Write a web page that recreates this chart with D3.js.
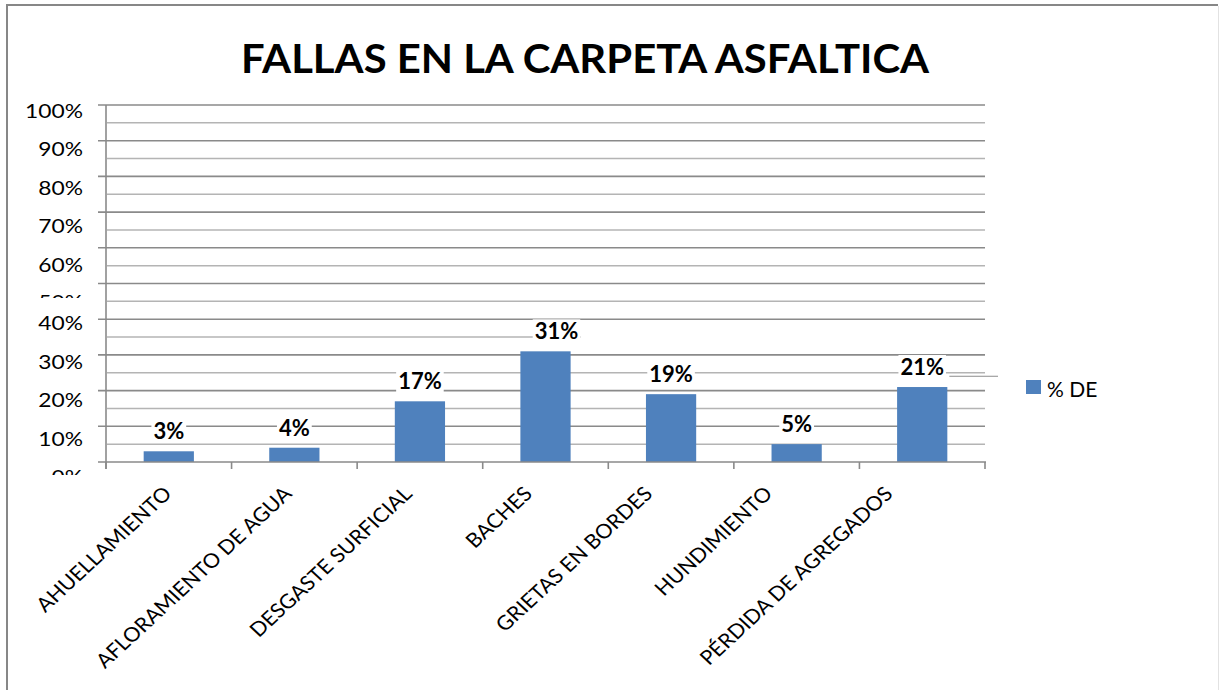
<!DOCTYPE html>
<html>
<head>
<meta charset="utf-8">
<script src="https://cdn.jsdelivr.net/npm/d3@7"></script>
<style>
  html, body { margin: 0; padding: 0; background: #fff; }
  svg { display: block; font-family: Lato, "Open Sans", sans-serif; }
</style>
</head>
<body>
<svg id="chart" width="1219" height="690"></svg>
<script>
// ---- data ----
const title = "FALLAS EN LA CARPETA ASFALTICA";
const seriesName = "% DE";
const categories = [
  "AHUELLAMIENTO",
  "AFLORAMIENTO DE AGUA",
  "DESGASTE SURFICIAL",
  "BACHES",
  "GRIETAS EN BORDES",
  "HUNDIMIENTO",
  "PÉRDIDA DE AGREGADOS"
];
const values = [0.03, 0.04, 0.17, 0.31, 0.19, 0.05, 0.21];
const majorTicks = [0, 0.1, 0.2, 0.3, 0.4, 0.5, 0.6, 0.7, 0.8, 0.9, 1.0];
const minorTicks = [0.05, 0.15, 0.25, 0.35, 0.45, 0.55, 0.65, 0.75, 0.85, 0.95];
const tickLabels = ["0%", "10%", "20%", "30%", "40%", "50%", "60%", "70%", "80%", "90%", "100%"];

// ---- layout ----
const W = 1219, H = 690;
const plot = { left: 106, right: 985, top: 105, bottom: 462 };
const barColor = "#4F81BD";
const majorGrid = "#8a8a8a";
const minorGrid = "#b4b4b4";
const textStretch = 1.14;   // glyphs are drawn slightly wide

const svg = d3.select("#chart");

// frame around the chart
svg.append("line").attr("x1", 7).attr("y1", 5).attr("x2", 7).attr("y2", H)
  .attr("stroke", "#878787").attr("stroke-width", 2);
svg.append("line").attr("x1", 6).attr("y1", 5).attr("x2", 1218).attr("y2", 5)
  .attr("stroke", "#878787").attr("stroke-width", 2);
svg.append("line").attr("x1", 1218.5).attr("y1", 6).attr("x2", 1218.5).attr("y2", H)
  .attr("stroke", "#e2e2e2").attr("stroke-width", 1);

// scales
const y = d3.scaleLinear().domain([0, 1]).range([plot.bottom, plot.top]);
const x = d3.scaleBand().domain(categories).range([plot.left, plot.right])
  .paddingInner(0.6).paddingOuter(0.3);
// value-axis labels sit on their own (slightly uneven) baseline ramp
const yLabel = d3.scaleLinear().domain([0, 0.4, 0.5, 0.6, 1])
  .range([484, 330, 309, 271.5, 118]);
// category labels are anchored along a point scale below the axis
const xLabel = d3.scalePoint().domain(categories).range([173, 894]);

// title
svg.append("text")
  .attr("transform", `translate(585,73) scale(1.02,1)`)
  .attr("text-anchor", "middle")
  .attr("font-weight", 700)
  .attr("font-size", 41)
  .attr("fill", "#000")
  .text(title);

// minor gridlines
const last = categories[categories.length - 1];
svg.append("g").selectAll("line").data(minorTicks).join("line")
  .attr("x1", plot.left + 1)
  .attr("x2", d => Math.abs(d - 0.35) < 1e-9 ? x("BACHES") + x.bandwidth() + 10 : plot.right)
  .attr("y1", d => y(d)).attr("y2", d => y(d))
  .attr("stroke", minorGrid).attr("stroke-width", 1.5);

// major gridlines with outside ticks
svg.append("g").selectAll("line").data(majorTicks.slice(1)).join("line")
  .attr("x1", plot.left - 8).attr("x2", plot.right)
  .attr("y1", d => y(d)).attr("y2", d => y(d))
  .attr("stroke", majorGrid).attr("stroke-width", 1.6);

// stray leader segment next to the last label
svg.append("line")
  .attr("x1", x(last) + x.bandwidth() + 2).attr("x2", 998)
  .attr("y1", y(0.25) + 3.5).attr("y2", y(0.25) + 3.5)
  .attr("stroke", "#8c8c8c").attr("stroke-width", 1);

// bars
svg.append("g").selectAll("rect").data(values).join("rect")
  .attr("x", (d, i) => x(categories[i]))
  .attr("y", d => y(d))
  .attr("width", x.bandwidth())
  .attr("height", d => y(0) - y(d))
  .attr("fill", barColor);

// data labels with white backing (the BACHES label sits a little to the right)
const labelNudge = { "BACHES": 11 };
const lbl = svg.append("g").selectAll("g").data(values).join("g");
lbl.each(function (d, i) {
  const g = d3.select(this);
  const c = categories[i];
  const cx = x(c) + x.bandwidth() / 2 + (labelNudge[c] || 0);
  const t = g.append("text")
    .attr("x", cx).attr("y", y(d) - 12)
    .attr("text-anchor", "middle")
    .attr("font-weight", 700).attr("font-size", 22)
    .attr("fill", "#000")
    .text(d3.format(".0%")(d));
  const b = t.node().getBBox();
  g.insert("rect", "text")
    .attr("x", b.x - 2).attr("y", b.y + 2)
    .attr("width", b.width + 4).attr("height", b.height - 4)
    .attr("fill", "#fff");
});

// value axis line
svg.append("line")
  .attr("x1", plot.left).attr("x2", plot.left)
  .attr("y1", plot.top).attr("y2", plot.bottom + 7)
  .attr("stroke", majorGrid).attr("stroke-width", 1.6);
// category axis line + ticks between categories
svg.append("line")
  .attr("x1", plot.left - 8).attr("x2", plot.right + 1)
  .attr("y1", plot.bottom).attr("y2", plot.bottom)
  .attr("stroke", majorGrid).attr("stroke-width", 1.6);
const tickXs = d3.range(categories.length + 1).map(i =>
  i === 0 ? plot.left : (i === categories.length ? plot.right :
    (x(categories[i - 1]) + x.bandwidth() + x(categories[i])) / 2));
svg.append("g").selectAll("line").data(tickXs).join("line")
  .attr("x1", d => d).attr("x2", d => d)
  .attr("y1", plot.bottom).attr("y2", plot.bottom + 7)
  .attr("stroke", majorGrid).attr("stroke-width", 1.6);

// value axis labels (50% and 0% are partly hidden)
const defs = svg.append("defs");
defs.append("clipPath").attr("id", "clip50")
  .append("rect").attr("x", 0).attr("y", 0).attr("width", 100).attr("height", 298);
defs.append("clipPath").attr("id", "clip0")
  .append("rect").attr("x", 0).attr("y", 0).attr("width", 100).attr("height", 475);
svg.append("g").selectAll("g").data(majorTicks).join("g")
  .attr("clip-path", (d, i) => i === 5 ? "url(#clip50)" : (i === 0 ? "url(#clip0)" : null))
  .append("text")
  .attr("transform", d => `translate(83,${yLabel(d)}) scale(${textStretch},1)`)
  .attr("text-anchor", "end")
  .attr("font-size", 20)
  .attr("fill", "#000")
  .text((d, i) => tickLabels[i]);

// category labels, rotated
svg.append("g").selectAll("text").data(categories).join("text")
  .attr("transform", d => `translate(${xLabel(d)},495) scale(1.08,1) rotate(-45)`)
  .attr("text-anchor", "end")
  .attr("font-size", 20)
  .attr("fill", "#000")
  .text(d => d);

// legend
svg.append("rect").attr("x", 1026).attr("y", 380).attr("width", 15).attr("height", 14)
  .attr("fill", barColor);
svg.append("text").attr("x", 1047).attr("y", 397)
  .attr("font-size", 21).attr("fill", "#000").text(seriesName);
</script>
</body>
</html>
